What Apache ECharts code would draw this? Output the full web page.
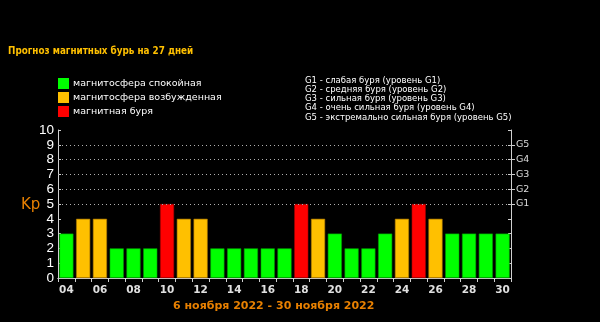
<!DOCTYPE html>
<html>
<head>
<meta charset="utf-8">
<script src="https://cdn.jsdelivr.net/npm/echarts@6/dist/echarts.min.js"></script>
<style>
html,body{margin:0;padding:0;background:#000;}
#c{width:600px;height:322px;}
</style>
</head>
<body>
<div id="c"></div>
<script>
// ---- data ----
var days = ['04','05','06','07','08','09','10','11','12','13','14','15','16','17','18','19','20','21','22','23','24','25','26','27','28','29','30'];
var kp = [3,4,4,2,2,2,5,4,4,2,2,2,2,2,5,4,3,2,2,3,4,5,4,3,3,3,3];
var seriesNames = ['магнитосфера спокойная','магнитосфера возбужденная','магнитная буря'];
var gLabels = ['','','','','','G1','G2','G3','G4','G5',''];
var gridLevels = [5,6,7,8,9];
var gLegend = [
  'G1 - слабая буря (уровень G1)',
  'G2 - средняя буря (уровень G2)',
  'G3 - сильная буря (уровень G3)',
  'G4 - очень сильная буря (уровень G4)',
  'G5 - экстремально сильная буря (уровень G5)'
];
var titleText = 'Прогноз магнитных бурь на 27 дней';
var periodText = '6 ноября 2022 - 30 ноября 2022';

var colors = ['#00ff00','#ffc000','#ff0000'];
var borders = ['#00a000','#b07800','#a00000'];

function level(v){ return v >= 5 ? 2 : (v >= 4 ? 1 : 0); }
var seriesData = [0,1,2].map(function(l){
  return kp.map(function(v){ return level(v) === l ? v : null; });
});

var chart = echarts.init(document.getElementById('c'), null, {renderer:'canvas'});
var axisColor = '#d0d0d0';

var series = seriesData.map(function(d, i){
  var s = {
    name: seriesNames[i],
    type: 'bar',
    stack: 'kp',
    xAxisIndex: 0,
    yAxisIndex: 0,
    barCategoryGap: '16%',
    data: d,
    itemStyle: { color: colors[i], borderColor: borders[i], borderWidth: 0.6 },
    silent: true
  };
  if (i === 0) {
    s.markLine = {
      silent: true,
      symbol: 'none',
      label: { show: false },
      lineStyle: { color: '#b0b0b0', type: [1, 3], width: 1 },
      data: gridLevels.map(function(v){ return { yAxis: v }; })
    };
  }
  return s;
});

function isG(i){ return gLabels[i] !== ''; }

chart.setOption({
  backgroundColor: '#000',
  animation: false,
  title: [
    { text: titleText, left: 8, top: 46, padding: 0,
      textStyle: { color: '#ffc000', fontSize: 9.8, fontWeight: 'bold', fontFamily: 'DejaVu Sans Condensed', lineHeight: 11 } },
    { text: gLegend.join('\n'), left: 305, top: 76, padding: 0,
      textStyle: { color: '#ffffff', fontSize: 8.5, fontWeight: 'normal', fontFamily: 'DejaVu Sans', lineHeight: 9.2 } },
    { text: 'Kp', left: 21, top: 197, padding: 0,
      textStyle: { color: '#e88000', fontSize: 15, fontWeight: 'normal', fontFamily: 'DejaVu Sans', lineHeight: 16 } },
    { text: periodText, left: 173, top: 300, padding: 0,
      textStyle: { color: '#e88000', fontSize: 11, fontWeight: 'bold', fontFamily: 'DejaVu Sans', lineHeight: 13 } }
  ],
  legend: {
    orient: 'vertical',
    left: 58, top: 78, padding: 0,
    itemWidth: 11, itemHeight: 11, itemGap: 3,
    icon: 'rect',
    selectedMode: false,
    data: seriesNames,
    itemStyle: { borderWidth: 0 },
    textStyle: { color: '#ffffff', fontSize: 9.5, fontFamily: 'DejaVu Sans', lineHeight: 11, padding: [0,0,0,-1] }
  },
  grid: { left: 58, right: 89, top: 130, bottom: 44, containLabel: false },
  xAxis: [
    { type: 'category', data: days, position: 'bottom',
      axisLine: { show: true, lineStyle: { color: axisColor, width: 1 } },
      axisTick: { show: false },
      axisLabel: { interval: 1, color: '#e0e0e0', fontSize: 10.5, fontWeight: 'bold', fontFamily: 'DejaVu Sans', margin: 7 },
      splitLine: { show: false } },
    { type: 'category', data: days, position: 'top',
      axisLine: { show: true, lineStyle: { color: axisColor, width: 1 } },
      axisTick: { show: true, inside: true, length: 4, interval: 0, lineStyle: { color: axisColor } },
      axisLabel: { show: false },
      splitLine: { show: false } }
  ],
  yAxis: [
    { type: 'value', min: 0, max: 10, interval: 1, position: 'left',
      axisLine: { show: true, lineStyle: { color: axisColor, width: 1 } },
      axisTick: { show: true, inside: true, length: 3, lineStyle: { color: axisColor } },
      axisLabel: { color: '#ffffff', fontSize: 13.5, fontFamily: 'Liberation Sans', margin: 4 },
      splitLine: { show: false } },
    { type: 'value', min: 0, max: 10, interval: 1, position: 'right',
      axisLine: { show: true, lineStyle: { color: axisColor, width: 1 } },
      axisTick: { show: true, inside: true, length: 3, lineStyle: { color: axisColor } },
      axisLabel: { show: false },
      splitLine: { show: false } },
    { type: 'category', position: 'right', boundaryGap: false,
      data: gLabels.map(function(_, i){ return String(i); }),
      axisLine: { show: false },
      axisTick: { show: true, inside: false, length: 4, lineStyle: { color: axisColor },
        interval: function(i){ return isG(i); } },
      axisLabel: { show: true, color: '#dddddd', fontSize: 9.5, fontFamily: 'DejaVu Sans', margin: 5,
        interval: function(i){ return isG(i); },
        formatter: function(v){ return gLabels[+v]; } },
      splitLine: { show: false } }
  ],
  series: series
});
</script>
</body>
</html>
